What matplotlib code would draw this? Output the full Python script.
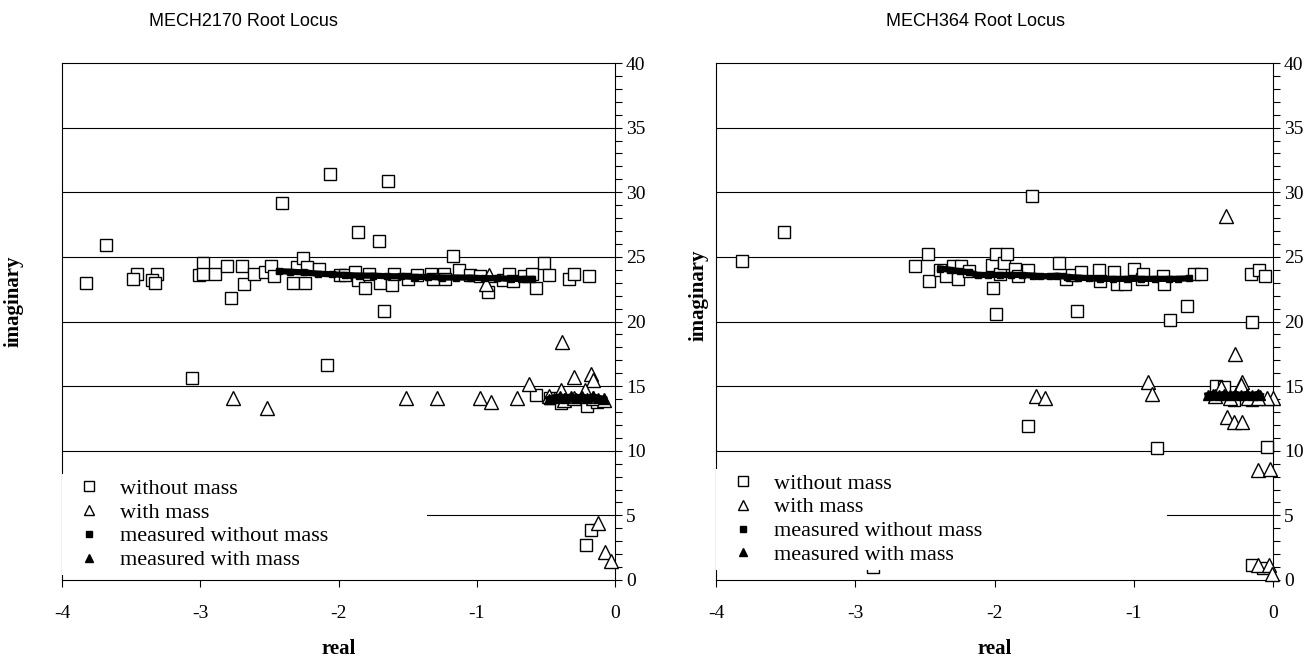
import matplotlib
matplotlib.use("Agg")
import matplotlib.pyplot as plt

# ---- MECH2170 (left) ----
l_wo_x = [-3.83, -3.68, -3.46, -3.49, -3.31, -3.35, -3.33, -3.06, -3.01, -2.98, -2.98, -2.89, -2.81, -2.78,
          -2.70, -2.68, -2.61, -2.53, -2.49, -2.47, -2.41, -2.33, -2.30, -2.26, -2.24, -2.23, -2.14, -2.08,
          -2.06, -1.99, -1.95, -1.88, -1.86, -1.86, -1.81, -1.78, -1.71, -1.70, -1.67, -1.64, -1.61, -1.60,
          -1.50, -1.43, -1.33, -1.32, -1.24, -1.23, -1.17, -1.13, -1.05, -0.98, -0.92, -0.81, -0.77, -0.74,
          -0.66, -0.60, -0.57, -0.51, -0.48, -0.33, -0.30, -0.19, -0.57, -0.47, -0.39, -0.20, -0.13, -0.21, -0.17]
l_wo_y = [23.0, 25.9, 23.7, 23.3, 23.7, 23.2, 23.0, 15.6, 23.6, 24.5, 23.7, 23.7, 24.3, 21.8,
          24.3, 22.9, 23.7, 23.8, 24.3, 23.5, 29.2, 23.0, 24.2, 24.9, 23.0, 24.2, 24.05, 16.6,
          31.4, 23.6, 23.6, 23.8, 26.9, 23.2, 22.6, 23.7, 26.2, 23.0, 20.8, 30.9, 22.8, 23.7,
          23.3, 23.6, 23.7, 23.3, 23.7, 23.3, 25.1, 24.0, 23.6, 23.5, 22.3, 23.2, 23.7, 23.1,
          23.5, 23.7, 22.6, 24.5, 23.6, 23.3, 23.7, 23.5, 14.3, 14.05, 13.7, 13.5, 13.8, 2.7, 3.9]
l_w_x = [-2.76, -2.52, -1.51, -1.29, -0.98, -0.91, -0.93, -0.90, -0.71, -0.62, -0.38, -0.30, -0.17, -0.16,
         -0.48, -0.39, -0.37, -0.30, -0.22, -0.16, -0.08, -0.12, -0.07, -0.03]
l_w_y = [14.05, 13.3, 14.05, 14.05, 14.05, 23.6, 22.9, 13.8, 14.05, 15.2, 18.4, 15.7, 15.9, 15.5,
         14.2, 14.7, 13.9, 14.05, 14.7, 14.05, 13.9, 4.4, 2.2, 1.5]
l_mwo_x = [-2.43, -2.35, -2.25, -2.15, -2.05, -1.95, -1.85, -1.75, -1.65, -1.55, -1.45, -1.35, -1.25, -1.15,
           -1.05, -0.95, -0.85, -0.75, -0.65, -0.60]
l_mwo_y = [23.9, 23.85, 23.8, 23.7, 23.65, 23.6, 23.55, 23.55, 23.5, 23.5, 23.45, 23.45, 23.4, 23.4,
           23.4, 23.35, 23.35, 23.3, 23.3, 23.3]
l_mw_x = [-0.48, -0.44, -0.40, -0.36, -0.32, -0.28, -0.24, -0.20, -0.16, -0.12, -0.08]
l_mw_y = [14.0, 14.1, 14.2, 14.1, 14.2, 14.1, 14.2, 14.1, 14.2, 14.1, 14.0]

# ---- MECH364 (right) ----
r_wo_x = [-3.81, -3.51, -2.57, -2.48, -2.47, -2.39, -2.35, -2.30, -2.26, -2.24, -2.18, -2.02, -2.01, -1.99,
          -1.99, -1.96, -1.93, -1.91, -1.85, -1.83, -1.76, -1.73, -1.76, -1.54, -1.49, -1.44, -1.41, -1.38,
          -1.25, -1.24, -1.14, -1.12, -1.06, -1.00, -0.94, -0.93, -0.83, -0.79, -0.78, -0.74, -0.62, -0.57,
          -0.52, -0.41, -0.35, -0.28, -0.15, -0.16, -0.10, -0.06, -0.15, -0.04, -0.15, -0.07, -2.87]
r_wo_y = [24.7, 26.9, 24.3, 25.2, 23.1, 24.0, 23.5, 24.3, 23.3, 24.3, 23.9, 24.4, 22.6, 25.2,
          20.6, 23.7, 24.5, 25.2, 24.1, 23.5, 24.0, 29.7, 11.9, 24.5, 23.3, 23.6, 20.8, 23.8,
          24.0, 23.1, 23.85, 22.9, 22.9, 24.05, 23.3, 23.7, 10.2, 23.5, 22.9, 20.1, 21.2, 23.7,
          23.7, 15.0, 14.95, 13.9, 13.9, 23.7, 24.0, 23.5, 20.0, 10.3, 1.15, 0.9, 1.0]
r_w_x = [-0.34, -1.70, -1.64, -0.90, -0.87, -0.27, -0.22, -0.37, -0.24, -0.23, 0.00, -0.04, -0.33, -0.28,
         -0.22, -0.42, -0.31, -0.18, -0.11, -0.11, -0.02, -0.11, -0.03, -0.01]
r_w_y = [28.15, 14.2, 14.05, 15.3, 14.4, 17.5, 15.3, 14.9, 14.8, 15.1, 14.1, 14.05, 12.6, 12.25,
         12.2, 14.2, 14.05, 14.05, 14.05, 8.5, 8.6, 1.15, 1.15, 0.5]
r_mwo_x = [-2.39, -2.32, -2.25, -2.18, -2.12, -2.05, -1.96, -1.88, -1.80, -1.72, -1.67, -1.60, -1.55, -1.48,
           -1.40, -1.32, -1.24, -1.15, -1.05, -0.95, -0.85, -0.75, -0.68, -0.60]
r_mwo_y = [24.1, 24.0, 23.9, 23.8, 23.6, 23.6, 23.6, 23.6, 23.6, 23.55, 23.5, 23.5, 23.55, 23.45,
           23.4, 23.35, 23.3, 23.3, 23.3, 23.3, 23.3, 23.3, 23.3, 23.35]
r_mw_x = [-0.47, -0.43, -0.39, -0.35, -0.31, -0.27, -0.23, -0.19, -0.15, -0.11, -0.09]
r_mw_y = [14.3, 14.4, 14.3, 14.4, 14.3, 14.4, 14.3, 14.4, 14.3, 14.4, 14.3]

titles = ["MECH2170 Root Locus", "MECH364 Root Locus"]
x_ticks = [-4, -3, -2, -1, 0]
y_ticks = [0, 5, 10, 15, 20, 25, 30, 35, 40]

SERIF = "Liberation Serif"
SANS = "Liberation Sans"

fig = plt.figure(figsize=(13.15, 6.6), dpi=100)
ax_l = fig.add_axes([62 / 1315, 80 / 660, 553 / 1315, 517 / 660])
ax_r = fig.add_axes([716 / 1315, 80 / 660, 557 / 1315, 517 / 660])

# axes, data, ylabel x/y (axes frac), title x (px), legend width, legend y
sets = [
    (ax_l, l_wo_x, l_wo_y, l_w_x, l_w_y, l_mwo_x, l_mwo_y, l_mw_x, l_mw_y, -0.069, 0.54, 243, 0.66, 0.01),
    (ax_r, r_wo_x, r_wo_y, r_w_x, r_w_y, r_mwo_x, r_mwo_y, r_mw_x, r_mw_y, -0.014, 0.55, 975, 0.81, 0.02),
]

for i, (ax, wx, wy, tx, ty, mx, my, nx, ny, ylab_x, ylab_y, title_x, leg_w, leg_y) in enumerate(sets):
    ax.set_xlim(-4, 0)
    ax.set_ylim(0, 40)
    for y in y_ticks[1:-1]:
        ax.axhline(y, color="black", lw=0.8, zorder=1)

    ax.plot(wx, wy, ls="none", marker="s", ms=9, mfc="white", mec="black", mew=1.0,
            label="without mass", zorder=3, clip_on=False)
    ax.plot(tx, ty, ls="none", marker="^", ms=10.5, mfc="white", mec="black", mew=1.0,
            label="with mass", zorder=3, clip_on=False)
    ax.plot(mx, my, color="black", lw=4.5, zorder=4)
    ax.plot(mx, my, ls="none", marker="s", ms=5, color="black",
            label="measured without mass", zorder=4)
    ax.plot(nx, ny, color="black", lw=4.5, zorder=4)
    ax.plot(nx, ny, ls="none", marker="^", ms=7, color="black",
            label="measured with mass", zorder=4)

    ax.set_xticks(x_ticks)
    ax.set_xticklabels([str(v) for v in x_ticks], fontfamily=SERIF, fontsize=14)
    ax.set_yticks(y_ticks)
    ax.set_yticks(range(0, 41), minor=True)
    ax.set_yticklabels([str(v) for v in y_ticks], fontfamily=SERIF, fontsize=14)
    ax.yaxis.tick_right()
    ax.yaxis.set_ticks_position("right")
    ax.tick_params(axis="y", which="both", direction="out", length=5, width=0.8, pad=3)
    ax.tick_params(axis="x", direction="out", length=5, width=0.8, pad=13)
    for s in ax.spines.values():
        s.set_color("black")
        s.set_linewidth(0.8)

    ax.set_xlabel("real", fontfamily=SERIF, fontweight="bold", fontsize=15, labelpad=12)
    ax.yaxis.set_label_position("left")
    ax.set_ylabel("imaginary", fontfamily=SERIF, fontweight="bold", fontsize=15)
    ax.yaxis.set_label_coords(ylab_x, ylab_y)

    fig.text(title_x / 1315, 1 - 21 / 660, titles[i], fontfamily=SANS, fontsize=13,
             ha="center", va="center")

    leg = ax.legend(loc="lower left", bbox_to_anchor=(0.0, leg_y, leg_w, 0.2), mode="expand",
                    frameon=True, framealpha=1, facecolor="white", edgecolor="none",
                    fancybox=False, prop={"family": SERIF, "size": 16}, markerscale=0.75,
                    handlelength=2.0, handletextpad=0.4, labelspacing=0.15,
                    borderpad=0.2, borderaxespad=0.0)
    leg.set_zorder(10)

fig.savefig("out.png", dpi=100)
